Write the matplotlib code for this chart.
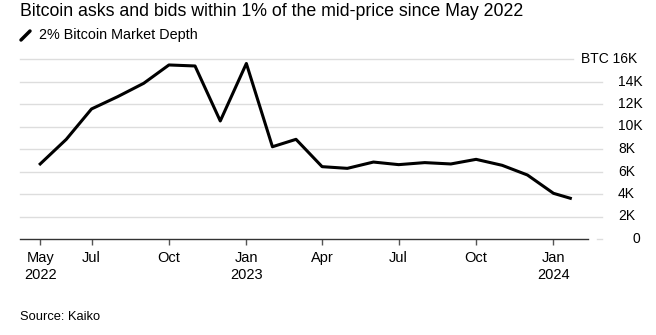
import matplotlib
matplotlib.use("Agg")
import matplotlib.pyplot as plt
import pandas as pd

plt.rcParams["font.family"] = ["Liberation Sans", "DejaVu Sans"]

# Monthly market depth readings (BTC)
dates = pd.to_datetime([
    "2022-05-01", "2022-06-01", "2022-07-01", "2022-08-01", "2022-09-01",
    "2022-10-01", "2022-11-01", "2022-12-01", "2023-01-01", "2023-02-01",
    "2023-03-01", "2023-04-01", "2023-05-01", "2023-06-01", "2023-07-01",
    "2023-08-01", "2023-09-01", "2023-10-01", "2023-11-01", "2023-12-01",
    "2024-01-01", "2024-01-21",
])
depth = [6670, 8860, 11560, 12650, 13840, 15470, 15380, 10490, 15600, 8200,
         8860, 6430, 6280, 6840, 6610, 6790, 6670, 7080, 6550, 5690,
         4060, 3620]

y_ticks = [0, 2000, 4000, 6000, 8000, 10000, 12000, 14000, 16000]
y_labels = ["0", "2K", "4K", "6K", "8K", "10K", "12K", "14K", "BTC 16K"]

tick_dates = pd.to_datetime(["2022-05-01", "2022-07-01", "2022-10-01", "2023-01-01",
                             "2023-04-01", "2023-07-01", "2023-10-01", "2024-01-01"])
tick_labels = ["May\n2022", "Jul", "Oct", "Jan\n2023", "Apr", "Jul", "Oct", "Jan\n2024"]

fig = plt.figure(figsize=(6.56, 3.35), dpi=100)
ax = fig.add_axes([20 / 656, 1 - 239 / 335, 568 / 656, 180 / 335])

ax.set_xlim(pd.Timestamp("2022-04-07"), pd.Timestamp("2024-02-11"))
ax.set_ylim(0, 16000)

# gridlines reach out towards the labels on the right
trans = ax.get_yaxis_transform()
for v, lab in zip(y_ticks, y_labels):
    if v == 0:
        ax.plot([1.0158, 1.0246], [v, v], color="#dddddd", lw=1, transform=trans, clip_on=False)
        ax.text(1.0845, v, lab, transform=trans, ha="center", va="center", fontsize=10)
    elif v == 16000:
        ax.plot([0, 0.9736], [v, v], color="#dddddd", lw=1, transform=trans, clip_on=False, zorder=1)
        ax.text(1.0863, v, lab, transform=trans, ha="right", va="center", fontsize=10)
    else:
        ax.plot([0, 1.0246], [v, v], color="#dddddd", lw=1, transform=trans, clip_on=False, zorder=1)
        ax.text(1.0528, v, lab, transform=trans, ha="left", va="center", fontsize=10)

ax.plot(dates, depth, color="black", lw=2.2, zorder=3, clip_on=False)

ax.set_yticks([])
for s in ["top", "right", "left"]:
    ax.spines[s].set_visible(False)
ax.spines["bottom"].set_color("#333333")
ax.spines["bottom"].set_linewidth(1)

ax.set_xticks(tick_dates)
ax.set_xticklabels(tick_labels, fontsize=10.5, linespacing=1.25)
ax.tick_params(axis="x", length=4.5, width=1, color="#555555", pad=4)

fig.text(20 / 656, 1 - 12 / 335, "Bitcoin asks and bids within 1% of the mid-price since May 2022",
         fontsize=12.8, va="center", ha="left")
fig.lines.append(plt.Line2D([21 / 656, 30 / 656], [1 - 40 / 335, 1 - 31 / 335],
                            transform=fig.transFigure, color="black", lw=2.5, solid_capstyle="round"))
fig.text(39 / 656, 1 - 35 / 335, "2% Bitcoin Market Depth", fontsize=10.4, va="center", ha="left")
fig.text(20 / 656, 1 - 317 / 335, "Source: Kaiko", fontsize=9.3, va="center", ha="left")

fig.savefig("out.png", dpi=100)
